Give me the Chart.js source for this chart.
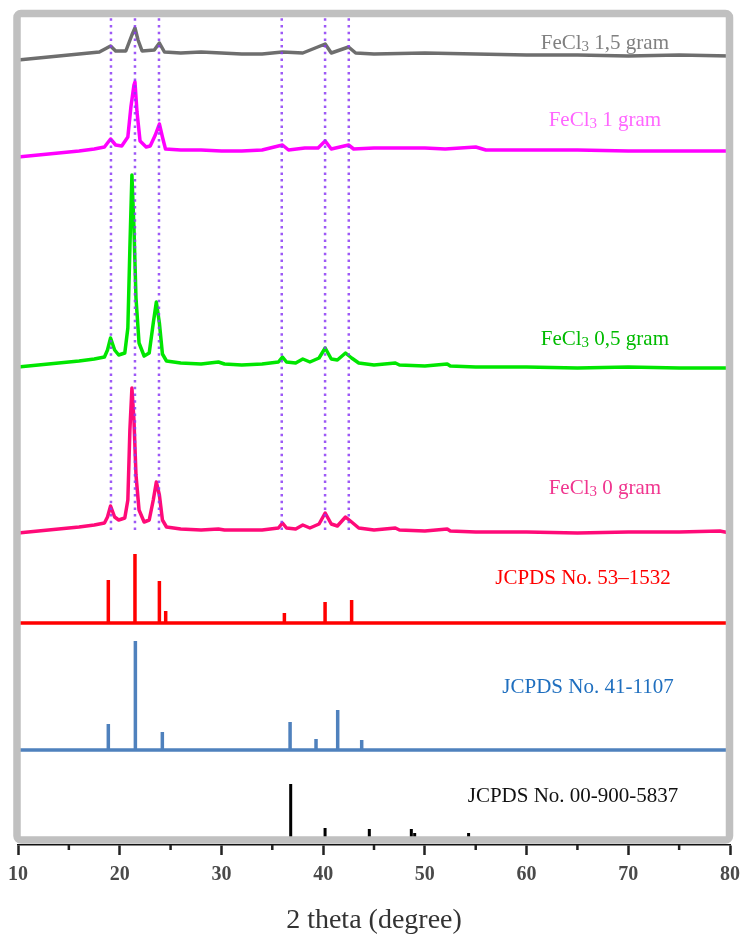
<!DOCTYPE html>
<html>
<head>
<meta charset="utf-8">
<script src="https://cdn.jsdelivr.net/npm/chart.js@4.4.0/dist/chart.umd.min.js"></script>
<style>
  body { margin: 0; background: #fff; }
  #wrap { width: 744px; height: 934px; position: relative; }
</style>
</head>
<body>
<div id="wrap"><canvas id="xrd"></canvas></div>
<script>
// XRD traces, 2 theta (degree) vs intensity above each trace's own baseline (a.u.)
var theta15 = [10, 12, 14, 16, 18, 19.1, 19.6, 20.6, 21.2, 21.5, 21.8, 22.2, 23.4, 23.9, 24.4, 26, 28, 30, 32, 34, 36, 38, 40.2, 40.8, 42.5, 43.2, 45, 50, 55, 60, 65, 70, 75, 80];
var int15   = [0, 2, 4, 6, 8, 14, 9, 9, 25, 32, 20, 9, 10, 17, 8, 7, 8, 7, 6, 6, 8, 7, 16, 7, 13, 7, 6, 7, 6, 5, 5, 4, 5, 4];

var theta1 = [10, 12, 14, 16, 17.5, 18.5, 19.1, 19.6, 20.2, 20.8, 21.1, 21.4, 21.5, 21.7, 22.0, 22.6, 23.0, 23.5, 23.9, 24.2, 24.5, 26, 28, 30, 32, 34, 36.0, 36.6, 38.2, 39.5, 40.2, 40.8, 42.5, 43.0, 45, 50, 52, 55, 56, 60, 65, 70, 75, 80];
var int1   = [0, 2, 4, 6, 8, 10, 18, 12, 11, 20, 50, 72, 75, 45, 16, 10, 11, 22, 33, 20, 8, 7, 7, 6, 6, 7, 12, 7, 9, 9, 16, 8, 12, 8, 9, 9, 8, 10, 7, 7, 7, 6, 6, 6];

var theta05 = [10, 12, 14, 16, 17.5, 18.5, 18.8, 19.1, 19.5, 19.9, 20.5, 20.8, 21.0, 21.2, 21.4, 21.6, 21.9, 22.4, 22.9, 23.3, 23.6, 23.9, 24.2, 24.6, 26, 28, 29.7, 30.3, 32, 34, 35.6, 36.0, 36.4, 37.3, 38.0, 38.7, 39.6, 40.2, 40.8, 41.4, 42.2, 42.8, 43.5, 45, 47.1, 47.5, 50, 52.2, 52.5, 55, 60, 65, 70, 75, 80];
var int05   = [1, 3, 5, 7, 9, 11, 18, 30, 18, 13, 15, 40, 120, 193, 140, 70, 25, 12, 15, 45, 66, 45, 14, 7, 5, 4, 6, 4, 3, 4, 6, 11, 6, 5, 9, 6, 10, 20, 9, 8, 15, 10, 5, 3, 5, 3, 2, 4, 2, 1, 1, 0, 1, 0, 0];

var theta0 = [10, 12, 14, 16, 17.5, 18.5, 18.8, 19.1, 19.5, 19.9, 20.5, 20.8, 21.0, 21.2, 21.4, 21.6, 21.9, 22.4, 22.9, 23.3, 23.6, 23.9, 24.2, 24.6, 26, 28, 29.7, 30.3, 32, 34, 35.6, 36.0, 36.4, 37.3, 38.0, 38.7, 39.6, 40.2, 40.8, 41.4, 42.2, 42.8, 43.5, 45, 47.1, 47.5, 50, 52.2, 52.5, 55, 60, 65, 70, 75, 79, 80];
var int0   = [0, 2, 4, 6, 8, 10, 16, 27, 16, 13, 15, 33, 103, 145, 113, 58, 23, 11, 13, 33, 51, 38, 13, 6, 4, 3, 4, 3, 3, 3, 5, 10, 5, 4, 8, 5, 9, 20, 9, 7, 16, 11, 5, 3, 5, 3, 2, 4, 2, 1, 1, 0, 1, 1, 2, 0];

// reference stick patterns
var redPos  = [18.88, 21.5, 23.9, 24.52, 36.19, 40.19, 42.8];     // JCPDS 53-1532
var redInt  = [43, 69, 42, 12, 10, 21, 23];
var bluePos = [18.88, 21.54, 24.19, 36.75, 39.3, 41.43, 43.79];   // JCPDS 41-1107
var blueInt = [26, 109, 18, 28, 11, 40, 10];
var blackPos = [36.81, 40.19, 44.54, 48.67, 49.0, 54.3];          // JCPDS 00-900-5837
var blackInt = [56, 12, 11, 11, 7, 7];

// dotted guide lines at the main peaks
var guidePos = [19.14, 21.5, 23.86, 35.93, 40.19, 42.52];
var guideFrom = 315, guideTo = 828;

// vertical stacking of the patterns
var offset15 = 785, offset1 = 688, offset05 = 477, offset0 = 312;
var offsetRed = 222, offsetBlue = 95, offsetBlack = 5;

var xTicks = [10, 20, 30, 40, 50, 60, 70, 80];

function trace(th, it, off) {
  return th.map(function(t, i) { return { x: t, y: it[i] + off }; });
}

// sticks as one polyline: along the baseline and up/down at each line
function sticks(pos, it, off) {
  var pts = [{ x: 10, y: off }];
  pos.forEach(function(p, i) {
    pts.push({ x: p, y: off }, { x: p, y: off + it[i] }, { x: p, y: off });
  });
  pts.push({ x: 80, y: off });
  return pts;
}

var guides = [];
guidePos.forEach(function(p) {
  guides.push({ x: p, y: guideFrom }, { x: p, y: guideTo }, { x: p, y: null });
});

var labels = [
  { parts: ['FeCl', '3', ' 1,5 gram'], at: [67.7, 803], color: '#808080' },
  { parts: ['FeCl', '3', ' 1 gram'], at: [67.7, 726], color: '#ff66ff' },
  { parts: ['FeCl', '3', ' 0,5 gram'], at: [67.7, 507], color: '#00bb00' },
  { parts: ['FeCl', '3', ' 0 gram'], at: [67.7, 358], color: '#f0368f' },
  { parts: ['JCPDS No. 53\u20131532'], at: [65.55, 268], color: '#ff0000' },
  { parts: ['JCPDS No. 41-1107'], at: [66.04, 159], color: '#1f6fbf' },
  { parts: ['JCPDS No. 00-900-5837'], at: [64.57, 50], color: '#111111' }
];

var serif = "'Liberation Serif', 'Times New Roman', serif";

var labelPlugin = {
  id: 'seriesLabels',
  afterDatasetsDraw: function(chart) {
    var ctx = chart.ctx, xs = chart.scales.x, ys = chart.scales.y;
    ctx.save();
    ctx.textBaseline = 'alphabetic';
    ctx.textAlign = 'left';
    labels.forEach(function(l) {
      var cx = xs.getPixelForValue(l.at[0]);
      var cy = ys.getPixelForValue(l.at[1]) + 7;
      var fonts = l.parts.length === 3 ? ['21px ' + serif, '15px ' + serif, '21px ' + serif] : ['21px ' + serif];
      var w = 0;
      l.parts.forEach(function(p, i) { ctx.font = fonts[i]; w += ctx.measureText(p).width; });
      var x = cx - w / 2;
      ctx.fillStyle = l.color;
      l.parts.forEach(function(p, i) {
        ctx.font = fonts[i];
        ctx.fillText(p, x, cy + (i === 1 ? 2 : 0));
        x += ctx.measureText(p).width;
      });
    });
    ctx.restore();
  }
};

// grey frame round the plot + minor ticks on the 2 theta axis
var framePlugin = {
  id: 'frame',
  afterDatasetsDraw: function(chart) {
    var ctx = chart.ctx, a = chart.chartArea;
    ctx.save();
    ctx.strokeStyle = '#c0c0c0';
    ctx.lineWidth = 7.5;
    ctx.beginPath();
    ctx.roundRect(a.left - 1, a.top - 3.5, a.right - a.left + 0.5, a.bottom - a.top - 1.5, 4);
    ctx.stroke();
    ctx.restore();
  },
  afterDraw: function(chart) {
    var ctx = chart.ctx, xs = chart.scales.x, a = chart.chartArea;
    ctx.save();
    ctx.strokeStyle = '#222';
    ctx.lineWidth = 2.5;
    for (var v = 15; v < 80; v += 10) {
      var px = xs.getPixelForValue(v);
      ctx.beginPath();
      ctx.moveTo(px, a.bottom);
      ctx.lineTo(px, a.bottom + 5);
      ctx.stroke();
    }
    ctx.restore();
  }
};

var lineOpts = { pointRadius: 0, borderWidth: 3.5, tension: 0, fill: false, borderJoinStyle: 'round' };

new Chart(document.getElementById('xrd'), {
  type: 'line',
  data: {
    datasets: [
      { label: 'guides', data: guides, borderColor: 'rgba(140, 60, 245, 0.85)', borderWidth: 2.5, borderDash: [2.5, 4.2], pointRadius: 0, spanGaps: false },
      Object.assign({ label: 'FeCl3 1,5 gram', data: trace(theta15, int15, offset15), borderColor: '#6e6e6e' }, lineOpts),
      Object.assign({ label: 'FeCl3 1 gram', data: trace(theta1, int1, offset1), borderColor: '#ff00ff' }, lineOpts),
      Object.assign({ label: 'FeCl3 0,5 gram', data: trace(theta05, int05, offset05), borderColor: '#00e600' }, lineOpts),
      Object.assign({ label: 'FeCl3 0 gram', data: trace(theta0, int0, offset0), borderColor: '#ff0a78' }, lineOpts),
      Object.assign({ label: 'JCPDS No. 53-1532', data: sticks(redPos, redInt, offsetRed), borderColor: '#ff0000' }, lineOpts, { borderWidth: 3.5, borderJoinStyle: 'miter' }),
      Object.assign({ label: 'JCPDS No. 41-1107', data: sticks(bluePos, blueInt, offsetBlue), borderColor: '#4f81bd' }, lineOpts, { borderWidth: 3.5, borderJoinStyle: 'miter' }),
      Object.assign({ label: 'JCPDS No. 00-900-5837', data: sticks(blackPos, blackInt, offsetBlack), borderColor: '#000000' }, lineOpts, { borderWidth: 3, borderJoinStyle: 'miter' })
    ]
  },
  options: {
    responsive: true,
    maintainAspectRatio: false,
    animation: false,
    layout: { padding: { left: 18, right: 14, top: 17, bottom: 0 } },
    plugins: { legend: { display: false }, tooltip: { enabled: false } },
    scales: {
      x: {
        type: 'linear', min: 10, max: 80,
        afterBuildTicks: function(scale) { scale.ticks = xTicks.map(function(v) { return { value: v }; }); },
        afterFit: function(scale) {
          scale.height = 89;
          // let the layout padding alone decide the plot width
          scale.paddingLeft = 0;
          scale.paddingRight = 0;
        },
        ticks: { color: '#4a4a4a', padding: 8, maxRotation: 0, autoSkip: false,
                 font: { family: serif, size: 20, weight: 'bold' } },
        grid: { drawOnChartArea: false, drawTicks: true, tickLength: 10, tickColor: '#222', tickWidth: 2.5 },
        border: { display: true, color: '#111', width: 1.5 },
        title: { display: true, text: '2 theta (degree)', color: '#333', padding: { top: 0, bottom: -3 },
                 font: { family: serif, size: 28 } }
      },
      y: { type: 'linear', min: 0, max: 828, display: false }
    }
  },
  plugins: [framePlugin, labelPlugin]
});
</script>
</body>
</html>
